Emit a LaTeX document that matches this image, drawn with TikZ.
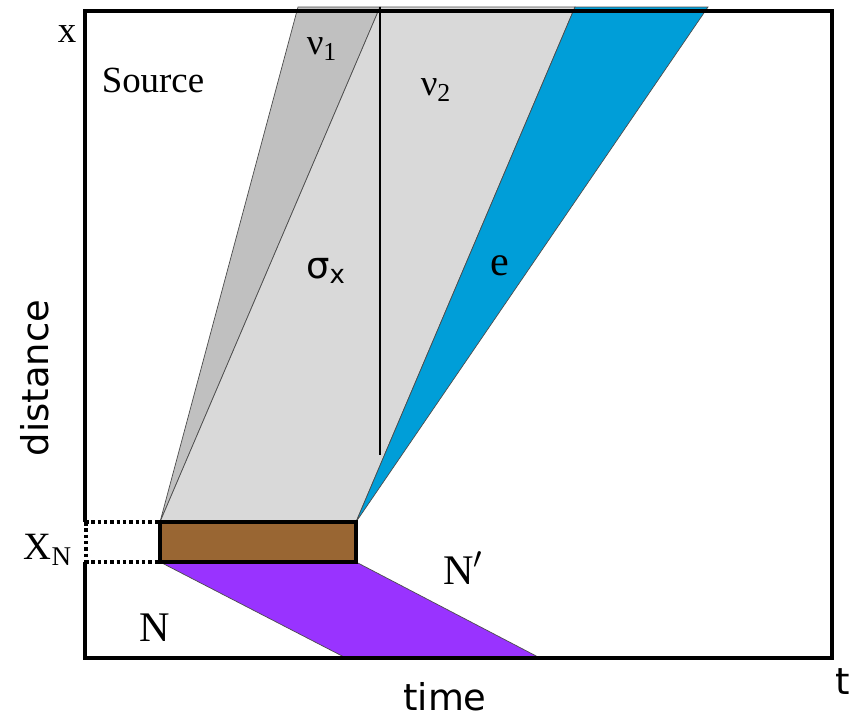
\documentclass[tikz,border=0pt]{standalone}
\usepackage{fontspec}
\setmainfont{Liberation Serif}
\newfontfamily\handfont{DejaVu Sans}
\definecolor{slabbrown}{HTML}{996633}
\definecolor{driftpurple}{HTML}{9933FF}
\definecolor{elecblue}{HTML}{009ED8}
\definecolor{nuone}{HTML}{C0C0C0}
\definecolor{nutwo}{HTML}{D9D9D9}
\tikzset{
  edge/.style={draw=black!70, line width=0.4pt},
  frameline/.style={line width=2.1pt},
  guide/.style={line width=2pt, dash pattern=on 2pt off 1.6pt},
  lbl/.style={font=\fontsize{24}{28}\selectfont, inner sep=0pt},
  hand/.style={font=\handfont\fontsize{21}{25}\selectfont, inner sep=0pt}
}
\begin{document}
\begin{tikzpicture}[x=0.02cm, y=-0.02cm]
    \useasboundingbox (0,0) rectangle (850,720);
    % corners of the source slab
    \coordinate (sTL) at (160,522);
    \coordinate (sTR) at (356,522);
    \coordinate (sBR) at (356,562);
    \coordinate (sBL) at (160,562);
    \coordinate (v1L) at (298,7);
    \coordinate (v1R) at (380,7);
    \coordinate (v2R) at (575,7);
    \coordinate (eR) at (708,7);

    % neutrino fans
    \filldraw[fill=nuone, edge] (sTL) -- (v1L) -- (v1R) -- cycle;
    \filldraw[fill=nutwo, edge] (sTL) -- (v1R) -- (v2R) -- (sTR) -- cycle;
    \filldraw[fill=elecblue, edge] (sTR) -- (v2R) -- (eR) -- cycle;
    \draw[line width=0.8pt] (v1R) -- (380,455);

    % drift towards the detector
    \filldraw[fill=driftpurple, edge] (sBL) -- (sBR) -- (540,658) -- (346,658) -- cycle;

    % frame
    \draw[frameline] (85,522) -- (85,11) -- (832,11) -- (832,658) -- (85,658) -- (85,562);
    \draw[guide] (85,522) -- (sTL);
    \draw[guide] (85,562) -- (sBL);
    \draw[guide] (86,522) -- (86,562);

    % source slab
    \filldraw[fill=slabbrown, line width=2.1pt] (sTL) rectangle (sBR);

    % labels
    \node[lbl, font=\fontsize{21}{24}\selectfont] (xax) at (67,34) {x};
    \node[lbl, font=\fontsize{21}{24}\selectfont] (src) at (153,80) {Source};
    \node[lbl, font=\fontsize{21}{24}\selectfont] (nu1) at (322,49) {ν\textsubscript{1}};
    \node[lbl, font=\fontsize{21}{24}\selectfont] (nu2) at (436,90) {ν\textsubscript{2}};
    \node[hand] (sig) at (326,271) {σ\textsubscript{x}};
    \node[lbl] (ele) at (500,266) {e};
    \node[hand, rotate=90] (dist) at (35,378) {distance};
    \node[lbl, font=\fontsize{22}{26}\selectfont] (xn) at (48,550) {X\textsubscript{N}};
    \node[lbl] (nn) at (155,628) {N};
    \node[lbl] (np) at (463,568) {N$'$};
    \node[hand] (tim) at (445,697) {time};
    \node[hand] (tax) at (843,682) {t};
\end{tikzpicture}
\end{document}
